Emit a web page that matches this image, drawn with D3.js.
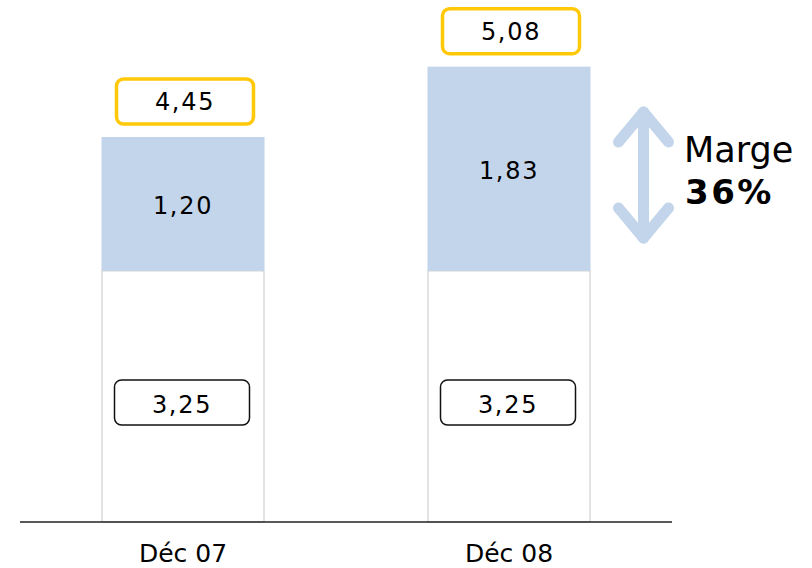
<!DOCTYPE html>
<html><head><meta charset="utf-8">
<script src="https://cdn.jsdelivr.net/npm/d3@7"></script>
<style>html,body{margin:0;padding:0;background:#fff;}svg{display:block;}</style>
</head><body>
<script>
const categories = ["Déc 07", "Déc 08"];
const baseValues = [3.25, 3.25];
const marginValues = [1.20, 1.83];
const totalValues = [4.45, 5.08];
const marginRateLabel = "36%";
const marginTitle = "Marge";

const fmt = v => d3.format(".2f")(v).replace(".", ",");
const W = 812, H = 568;
const svg = d3.select("body").append("svg").attr("width", W).attr("height", H);

const x = d3.scaleBand().domain(categories).range([20, 672]).paddingInner(0.5).paddingOuter(0.25);
const y = d3.scaleLinear().domain([1, 5.5]).range([522, 522 - 4.5 * 111.6]);

const font = "'DejaVu Sans', Verdana, sans-serif";
const blue = "#C3D5EA", yellow = "#FFC90A";

const g = svg.append("g");
const data = categories.map((c, i) => ({c, base: baseValues[i], m: marginValues[i], t: totalValues[i]}));

// white base segment
g.selectAll("rect.base").data(data).join("rect")
  .attr("x", d => x(d.c) + 0.5).attr("width", x.bandwidth() - 1)
  .attr("y", d => y(d.base)).attr("height", d => y.range()[0] - y(d.base))
  .attr("fill", "#fff").attr("stroke", "#C8C8C8").attr("stroke-width", 1);
// blue margin segment
g.selectAll("rect.m").data(data).join("rect")
  .attr("x", d => x(d.c)).attr("width", x.bandwidth())
  .attr("y", d => y(d.base + d.m)).attr("height", d => y(d.base) - y(d.base + d.m))
  .attr("fill", blue);

// axis line
g.append("line").attr("x1", 20).attr("x2", 672).attr("y1", y.range()[0]).attr("y2", y.range()[0])
  .attr("stroke", "#222").attr("stroke-width", 1.5);

// category labels
g.selectAll("text.cat").data(data).join("text")
  .attr("x", d => x(d.c) + x.bandwidth() / 2).attr("y", 562)
  .attr("text-anchor", "middle").attr("font-family", font).attr("font-size", 25)
  .attr("fill", "#000").text(d => d.c);

const bw = 137, bh = 45;
const txt = (sel) => sel.attr("text-anchor", "middle").attr("font-family", font)
  .attr("font-size", 24).attr("letter-spacing", 1.7).attr("fill", "#000");

data.forEach(d => {
  const cx = x(d.c) + x.bandwidth() / 2;
  const top = y(d.t);
  // total label (yellow box)
  g.append("rect").attr("x", cx - bw / 2 + 2).attr("y", top - 13 - bh).attr("width", bw).attr("height", bh)
    .attr("rx", 7).attr("fill", "#fff").attr("stroke", yellow).attr("stroke-width", 3.5);
  g.append("text").call(txt).attr("x", cx + 2).attr("y", top - 13 - bh / 2 + 9).text(fmt(d.t));
  // margin label
  const mc = (y(d.base) + y(d.base + d.m)) / 2;
  g.append("text").call(txt).attr("x", cx).attr("y", mc + 10).text(fmt(d.m));
  // base label box
  const bc = 402.5;
  g.append("rect").attr("x", cx - bw / 2).attr("y", bc - bh / 2).attr("width", bw - 2).attr("height", bh)
    .attr("rx", 7).attr("fill", "#fff").attr("stroke", "#111").attr("stroke-width", 1.5);
  g.append("text").call(txt).attr("x", cx - 1).attr("y", bc + 10).text(fmt(d.base));
});

// double arrow annotation
const ax = x(categories[1]) + x.bandwidth() + 53;
const aTop = 112, aBot = 238, arm = 25, armH = 30;
const arrow = g.append("g").attr("fill", "none").attr("stroke", blue).attr("stroke-width", 11)
  .attr("stroke-linecap", "round").attr("stroke-linejoin", "round");
arrow.append("line").attr("x1", ax).attr("x2", ax).attr("y1", aTop).attr("y2", aBot);
arrow.append("path").attr("d", `M${ax - arm},${aTop + armH}L${ax},${aTop}L${ax + arm},${aTop + armH}`);
arrow.append("path").attr("d", `M${ax - arm},${aBot - armH}L${ax},${aBot}L${ax + arm},${aBot - armH}`);

g.append("text").attr("x", 684).attr("y", 162).attr("font-family", font).attr("font-size", 35)
  .attr("fill", "#000").text(marginTitle);
g.append("text").attr("x", 685).attr("y", 204).attr("font-family", font).attr("font-size", 34)
  .attr("font-weight", "bold").attr("letter-spacing", 2.5).attr("fill", "#000").text(marginRateLabel);
</script>
</body></html>
